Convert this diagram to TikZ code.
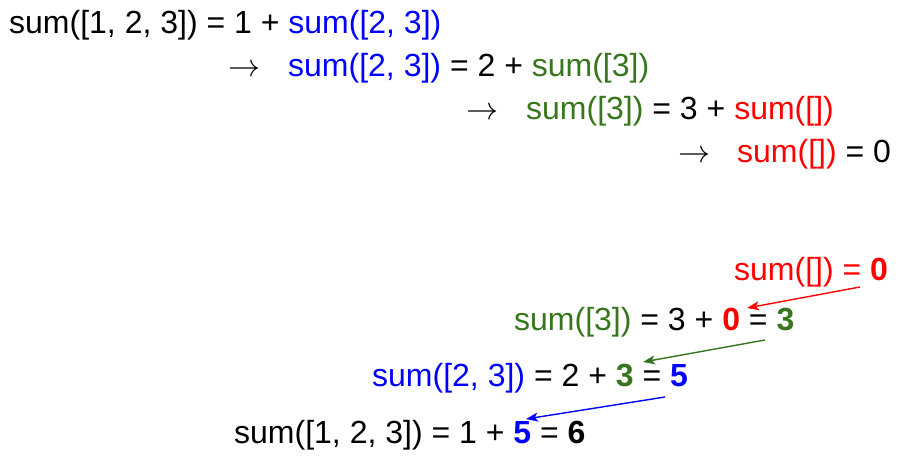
\documentclass[tikz,border=0pt]{standalone}
\usepackage{fontspec}
\setmainfont{Liberation Sans}
\usetikzlibrary{arrows.meta}
\definecolor{cblue}{RGB}{0,0,255}
\definecolor{cgreen}{RGB}{56,118,29}
\definecolor{cred}{RGB}{255,0,0}
\tikzset{
  txt/.style={anchor=base west, inner sep=0pt, font=\fontsize{32}{38}\selectfont},
  link/.style={line width=1.4pt, -{Stealth[length=12pt,width=9pt,inset=3pt]}},
}
\newcommand{\mto}{\scalebox{3.2}{\fontsize{10}{12}\selectfont$\rightarrow$}}
\begin{document}
\begin{tikzpicture}[x=1pt,y=-1pt]
\useasboundingbox (0,0) rectangle (900,462);
% top part
\node[txt] (t1) at (9,34) {sum([1, 2, 3]) = 1 + \textcolor{cblue}{sum([2, 3])}};
\node[txt] (a2) at (228,77) {\mto};
\node[txt] (t2) at (288,77) {\textcolor{cblue}{sum([2, 3])} = 2 + \textcolor{cgreen}{sum([3])}};
\node[txt] (a3) at (466,120) {\mto};
\node[txt] (t3) at (526,120) {\textcolor{cgreen}{sum([3])} = 3 + \textcolor{cred}{sum([])}};
\node[txt] (a4) at (678,163) {\mto};
\node[txt] (t4) at (737,163) {\textcolor{cred}{sum([])} = 0};
% bottom part
\node[txt] (b1) at (734,281) {\textcolor{cred}{sum([]) = \textbf{0}}};
\node[txt] (b2) at (514,331) {\textcolor{cgreen}{sum([3])} = 3 + \textcolor{cred}{\textbf{0}} = \textcolor{cgreen}{\textbf{3}}};
\node[txt] (b3) at (372,387) {\textcolor{cblue}{sum([2, 3])} = 2 + \textcolor{cgreen}{\textbf{3}} = \textcolor{cblue}{\textbf{5}}};
\node[txt] (b4) at (234,443) {sum([1, 2, 3]) = 1 + \textcolor{cblue}{\textbf{5}} = \textbf{6}};
% arrow ends
\coordinate (r0s) at (860,287);
\coordinate (r0e) at (747,308);
\coordinate (g3s) at (765,340);
\coordinate (g3e) at (643,362);
\coordinate (b5s) at (665,397);
\coordinate (b5e) at (526,419);
\draw[link, cred] (r0s) -- (r0e);
\draw[link, cgreen] (g3s) -- (g3e);
\draw[link, cblue] (b5s) -- (b5e);
\end{tikzpicture}
\end{document}
